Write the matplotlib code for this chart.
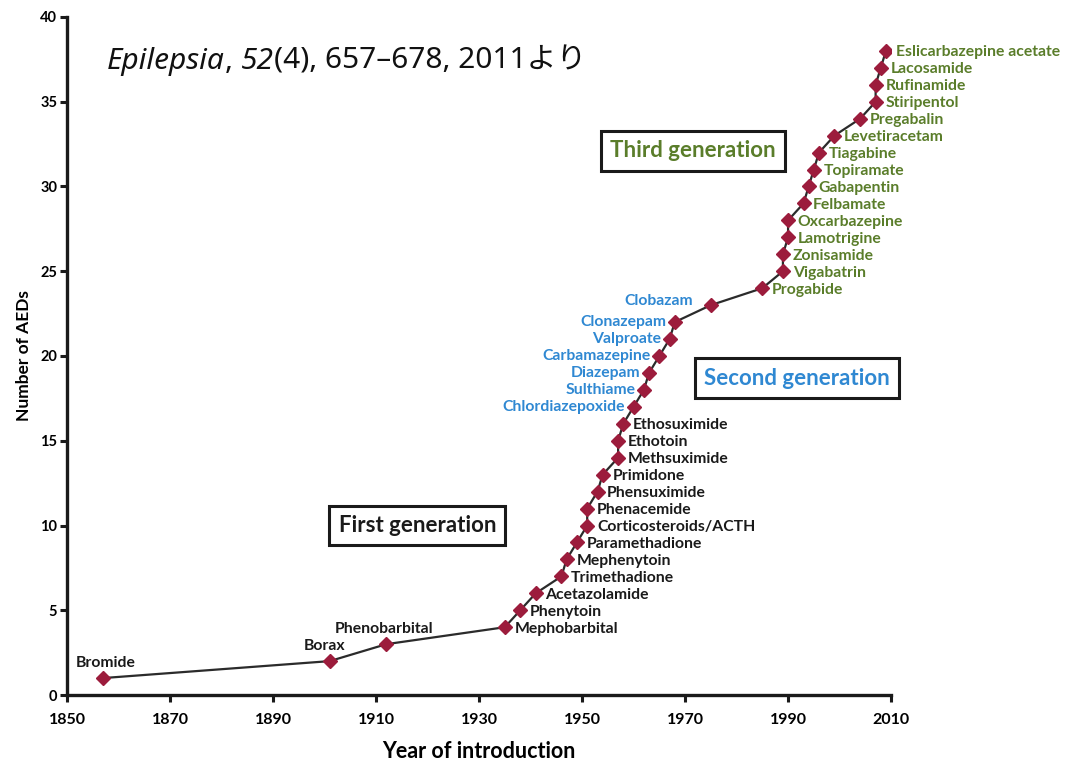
import matplotlib
matplotlib.use("Agg")
import matplotlib.pyplot as plt

# --- DATA ---
drugs = [
    "Bromide", "Borax", "Phenobarbital", "Mephobarbital", "Phenytoin",
    "Acetazolamide", "Trimethadione", "Mephenytoin", "Paramethadione",
    "Corticosteroids/ACTH", "Phenacemide", "Phensuximide", "Primidone",
    "Methsuximide", "Ethotoin", "Ethosuximide",
    "Chlordiazepoxide", "Sulthiame", "Diazepam", "Carbamazepine",
    "Valproate", "Clonazepam", "Clobazam",
    "Progabide", "Vigabatrin", "Zonisamide", "Lamotrigine", "Oxcarbazepine",
    "Felbamate", "Gabapentin", "Topiramate", "Tiagabine", "Levetiracetam",
    "Pregabalin", "Stiripentol", "Rufinamide", "Lacosamide",
    "Eslicarbazepine acetate",
]
years = [
    1857, 1901, 1912, 1935, 1938,
    1941, 1946, 1947, 1949,
    1951, 1951, 1953, 1954,
    1957, 1957, 1958,
    1960, 1962, 1963, 1965,
    1967, 1968, 1975,
    1985, 1989, 1989, 1990, 1990,
    1993, 1994, 1995, 1996, 1999,
    2004, 2007, 2007, 2008,
    2009,
]
n_aeds = [
    1, 2, 3, 4, 5,
    6, 7, 8, 9,
    10, 11, 12, 13,
    14, 15, 16,
    17, 18, 19, 20,
    21, 22, 23,
    24, 25, 26, 27, 28,
    29, 30, 31, 32, 33,
    34, 35, 36, 37,
    38,
]
generation = [1] * 16 + [2] * 7 + [3] * 15
x_ticks = [1850, 1870, 1890, 1910, 1930, 1950, 1970, 1990, 2010]
y_ticks = [0, 5, 10, 15, 20, 25, 30, 35, 40]

# --- STYLE ---
GEN_COLORS = {1: "#1a1a1a", 2: "#2f88d2", 3: "#5a7d2a"}
MARKER_COLOR = "#9c1c3c"
LABEL_FONT = "Lato"
LABEL_SIZE = 11.3
ABOVE = {"Bromide": (2, 6), "Borax": (-4, 6), "Phenobarbital": (-2, 6)}

fig = plt.figure(figsize=(10.71, 7.61), dpi=100)
ax = fig.add_axes([0.0626, 0.0867, 0.7694, 0.891])

ax.plot(years, n_aeds, color="#2b2b2b", lw=1.6, zorder=2)
ax.plot(years, n_aeds, ls="none", marker="D", ms=6.8, color=MARKER_COLOR,
        mec=MARKER_COLOR, zorder=3)

for name, yr, n, g in zip(drugs, years, n_aeds, generation):
    col = GEN_COLORS[g]
    if name in ABOVE:
        off, ha, va = ABOVE[name], "center", "bottom"
    elif name == "Clobazam":
        off, ha, va = (-13, 3), "right", "center"
    elif g == 2:
        off, ha, va = (-6, 0), "right", "center"
    else:
        off, ha, va = (7, -1), "left", "center"
    ax.annotate(name, (yr, n), xytext=off, textcoords="offset points",
                ha=ha, va=va, color=col, fontsize=LABEL_SIZE, fontweight="bold",
                family=LABEL_FONT, zorder=4)

# generation boxes
box_kw = dict(boxstyle="square,pad=0.42", fc="white", ec="#1a1a1a", lw=2.2)
gen_boxes = [("First generation", 1918, 10.0, 1),
             ("Second generation", 1991.7, 18.7, 2),
             ("Third generation", 1971.6, 32.1, 3)]
for txt, bx, by, g in gen_boxes:
    ax.text(bx, by, txt, ha="center", va="center", fontsize=16,
            fontweight="bold", family=LABEL_FONT, color=GEN_COLORS[g],
            bbox=box_kw, clip_on=False)

# axes
ax.set_xlim(1850, 2010)
ax.set_ylim(0, 40)
ax.set_xticks(x_ticks)
ax.set_yticks(y_ticks)
for s in ["top", "right"]:
    ax.spines[s].set_visible(False)
for s in ["left", "bottom"]:
    ax.spines[s].set_linewidth(2.4)
    ax.spines[s].set_color("#1a1a1a")
    ax.spines[s].set_capstyle("projecting")
ax.tick_params(length=5, width=2.2, color="#1a1a1a", direction="out")
ax.tick_params(axis="x", pad=8)
ax.tick_params(axis="y", pad=2)
for lab in ax.get_xticklabels():
    lab.set_fontweight("bold"); lab.set_family(LABEL_FONT); lab.set_fontsize(11.5)
for lab in ax.get_yticklabels():
    lab.set_fontweight("bold"); lab.set_family(LABEL_FONT); lab.set_fontsize(10.5)

ax.set_xlabel("Year of introduction", fontsize=15.5, fontweight="bold",
              family=LABEL_FONT, labelpad=10)
ax.set_ylabel("Number of AEDs", fontsize=12.5, fontweight="bold",
              family=LABEL_FONT, labelpad=6)

# citation text, built from pieces so parts can be italic
TITLE_FAM = ["Noto Sans", "Noto Sans CJK JP"]
pieces = [("Epilepsia", "italic"), (", ", "normal"), ("52", "italic"),
          ("(4), 657–678, 2011より", "normal")]
prev = ax.text(0.0485, 0.913, pieces[0][0], transform=ax.transAxes,
               style=pieces[0][1], family=TITLE_FAM, fontsize=21.5,
               ha="left", va="bottom", color="#111111")
for txt, st in pieces[1:]:
    prev = ax.annotate(txt, xy=(1, 0), xycoords=prev, ha="left", va="bottom",
                       style=st, family=TITLE_FAM, fontsize=21.5, color="#111111")

fig.savefig("out.png", dpi=100)
